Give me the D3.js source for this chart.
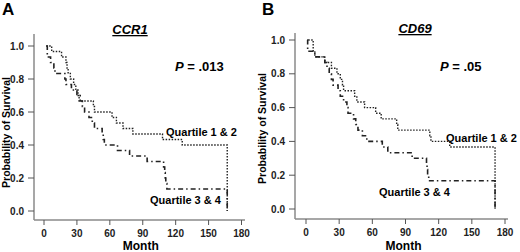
<!DOCTYPE html>
<html><head><meta charset="utf-8">
<script src="https://cdn.jsdelivr.net/npm/d3@7"></script>
<style>body{margin:0;background:#fff}svg{display:block}text{font-family:"Liberation Sans",Arial,sans-serif}</style>
</head><body>
<script>
// Data
const xTicks = [0, 30, 60, 90, 120, 150, 180];
const yTicks = [0, 0.2, 0.4, 0.6, 0.8, 1.0];
const panelLetters = ["A", "B"];
const genes = ["CCR1", "CD69"];
const pValues = [".013", ".05"];
const seriesNames = ["Quartile 1 & 2", "Quartile 3 & 4"];
// Panel A
const tA12 = [2,7,16,20,21,22,24,27,29,31,32,45,46,62,66,72,81,108,126,167];
const sA12 = [1.0,0.967,0.933,0.9,0.867,0.833,0.8,0.767,0.733,0.7,0.667,0.633,0.6,0.567,0.533,0.5,0.467,0.433,0.4,0];
const tA34 = [2,3,6,9,10,19,20,25,30,33,35,37,41,44,46,53,54,55,67,78,94,109,110,110.5,111,112,167];
const sA34 = [1.0,0.933,0.9,0.867,0.833,0.8,0.767,0.733,0.7,0.667,0.633,0.6,0.567,0.533,0.5,0.467,0.433,0.4,0.367,0.333,0.3,0.267,0.233,0.2,0.167,0.133,0];
// Panel B
const tB12 = [2,6.5,8,17,23,28,31,33,34,44,46,53,63,68,82,83,112,113,130,171];
const sB12 = [1.0,0.933,0.9,0.867,0.833,0.8,0.767,0.733,0.7,0.667,0.633,0.6,0.567,0.533,0.5,0.467,0.433,0.4,0.367,0];
const tB34 = [1,1.5,8,17,19,21,23,24.5,29,31,34,37,38,43,45,47,51,55,69,74,96,109,109.5,110,111,171];
const sB34 = [1.0,0.933,0.9,0.867,0.833,0.8,0.767,0.733,0.7,0.667,0.633,0.6,0.567,0.533,0.5,0.467,0.433,0.4,0.367,0.333,0.3,0.267,0.233,0.2,0.167,0];

const W = 520, H = 252;
const svg = d3.select("body").append("svg").attr("width", W).attr("height", H);

const panels = [
  {letter: panelLetters[0], gene: genes[0], p: pValues[0], t12: tA12, s12: sA12, t34: tA34, s34: sA34,
   xr: [44, 241.5], yr: [211, 46], axX: 34, axY: 220, axTop: 34, axRight: 245, letterX: 2,
   titleX: 130, titleY: 34, pX: 175, pY: 71, lab12: [166, 136], lab34: [150, 204], ylabX: 9.5, tickLabX: 24},
  {letter: panelLetters[1], gene: genes[1], p: pValues[1], t12: tB12, s12: sB12, t34: tB34, s34: sB34,
   xr: [306, 505], yr: [209, 40], axX: 295, axY: 219, axTop: 33, axRight: 508, letterX: 262,
   titleX: 415, titleY: 33, pX: 440, pY: 71, lab12: [446, 142], lab34: [379, 196], ylabX: 265.5, tickLabX: 285}
];

panels.forEach(P => {
  const x = d3.scaleLinear().domain([0, 180]).range(P.xr);
  const y = d3.scaleLinear().domain([0, 1]).range(P.yr);
  const g = svg.append("g");
  const axColor = "#8a8a8a";

  g.append("text").attr("x", P.letterX).attr("y", 15).attr("font-size", 17).attr("font-weight", "bold").text(P.letter);

  g.append("line").attr("x1", P.axX).attr("x2", P.axX).attr("y1", P.axTop).attr("y2", P.axY)
    .attr("stroke", axColor).attr("stroke-width", 1.5);
  g.append("line").attr("x1", P.axX).attr("x2", P.axRight).attr("y1", P.axY).attr("y2", P.axY)
    .attr("stroke", axColor).attr("stroke-width", 1.5);

  yTicks.forEach(v => {
    g.append("line").attr("x1", P.axX - 6).attr("x2", P.axX).attr("y1", y(v)).attr("y2", y(v))
      .attr("stroke", "#555").attr("stroke-width", 1);
    g.append("text").attr("x", P.tickLabX).attr("y", y(v)).attr("dy", "0.35em")
      .attr("text-anchor", "end").attr("font-size", 10).attr("font-weight", "bold").attr("fill", "#222")
      .text(d3.format(".1f")(v));
  });
  xTicks.forEach(v => {
    g.append("line").attr("x1", x(v)).attr("x2", x(v)).attr("y1", P.axY).attr("y2", P.axY + 5)
      .attr("stroke", "#555").attr("stroke-width", 1);
    g.append("text").attr("x", x(v)).attr("y", P.axY + 17).attr("text-anchor", "middle")
      .attr("font-size", 10).attr("font-weight", "bold").attr("fill", "#222").text(v);
  });

  g.append("text").attr("x", (P.xr[0] + P.xr[1]) / 2 - 2).attr("y", 250).attr("text-anchor", "middle")
    .attr("font-size", 12).attr("font-weight", "bold").text("Month");
  g.append("text").attr("transform", `translate(${P.ylabX},${(P.yr[0] + P.yr[1]) / 2 + 4}) rotate(-90)`)
    .attr("text-anchor", "middle").attr("font-size", 10.5).attr("font-weight", "bold").text("Probability of Survival");

  g.append("text").attr("x", P.titleX).attr("y", P.titleY).attr("text-anchor", "middle")
    .attr("font-size", 13).attr("font-weight", "bold").attr("font-style", "italic")
    .attr("text-decoration", "underline").text(P.gene);
  const pt = g.append("text").attr("x", P.pX).attr("y", P.pY).attr("font-size", 13).attr("font-weight", "bold");
  pt.append("tspan").attr("font-style", "italic").text("P");
  pt.append("tspan").text(" = " + P.p);

  const line = d3.line().x(d => x(d[0])).y(d => y(d[1])).curve(d3.curveStepAfter);
  const d12 = P.t12.map((t, i) => [t, P.s12[i]]);
  const d34 = P.t34.map((t, i) => [t, P.s34[i]]);
  g.append("path").attr("d", line(d12)).attr("fill", "none").attr("stroke", "#222")
    .attr("stroke-width", 1.4).attr("stroke-dasharray", "1.5,1.5");
  g.append("path").attr("d", line(d34)).attr("fill", "none").attr("stroke", "#222")
    .attr("stroke-width", 1.6).attr("stroke-dasharray", "5,3,1.5,3");

  g.append("text").attr("x", P.lab12[0]).attr("y", P.lab12[1]).attr("font-size", 11).attr("font-weight", "bold").text(seriesNames[0]);
  g.append("text").attr("x", P.lab34[0]).attr("y", P.lab34[1]).attr("font-size", 11).attr("font-weight", "bold").text(seriesNames[1]);
});
</script>
</body></html>
